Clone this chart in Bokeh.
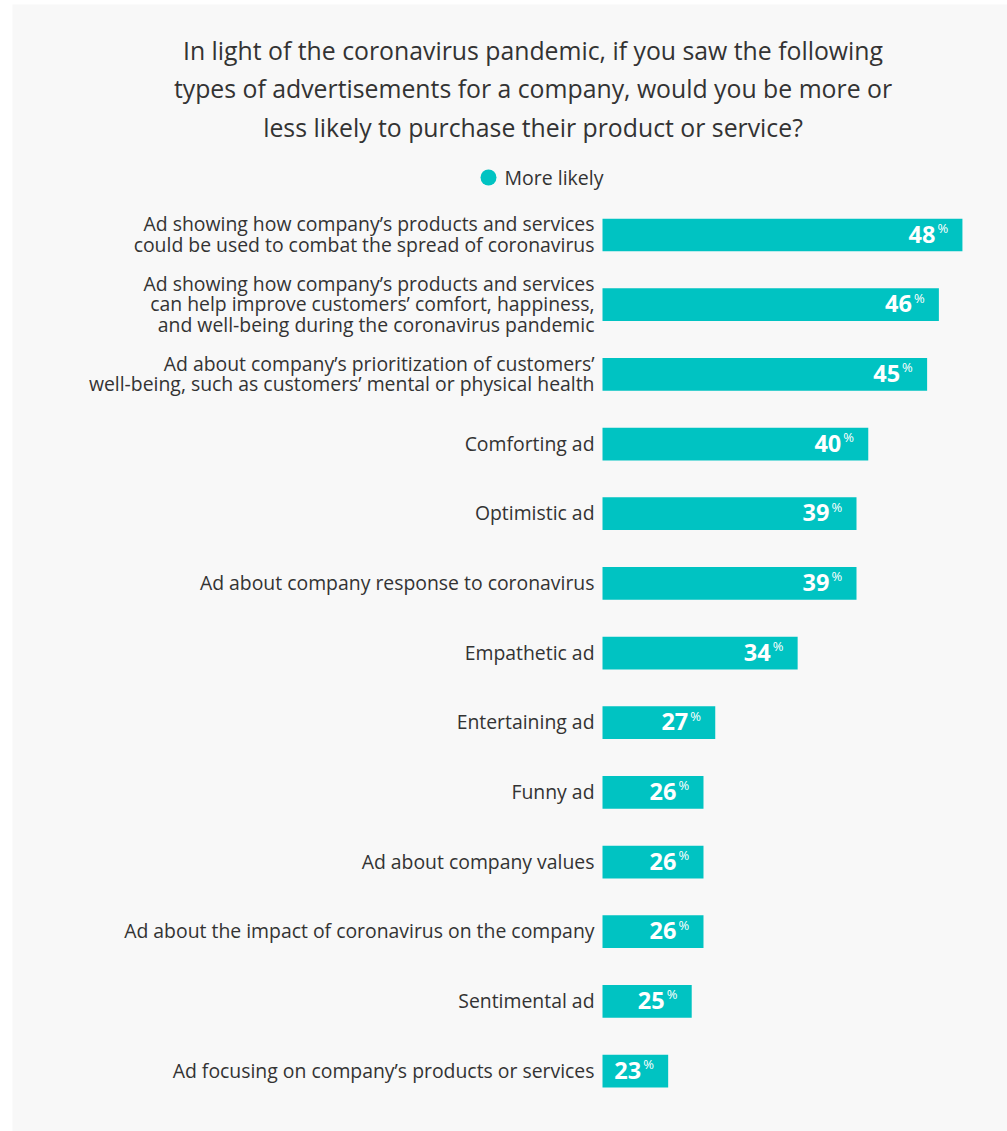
from bokeh.plotting import figure
from bokeh.models import Range1d, ColumnDataSource
from bokeh.core.properties import value
from bokeh.embed import file_html
from bokeh.resources import INLINE

# ---- data ----
categories = [
    "Ad showing how company\u2019s products and services\ncould be used to combat the spread of coronavirus",
    "Ad showing how company\u2019s products and services\ncan help improve customers\u2019 comfort, happiness,\nand well-being during the coronavirus pandemic",
    "Ad about company\u2019s prioritization of customers\u2019\nwell-being, such as customers\u2019 mental or physical health",
    "Comforting ad",
    "Optimistic ad",
    "Ad about company response to coronavirus",
    "Empathetic ad",
    "Entertaining ad",
    "Funny ad",
    "Ad about company values",
    "Ad about the impact of coronavirus on the company",
    "Sentimental ad",
    "Ad focusing on company\u2019s products or services",
]
more_likely = [48, 46, 45, 40, 39, 39, 34, 27, 26, 26, 26, 25, 23]
value_labels = ["48", "46", "45", "40", "39", "39", "34", "27", "26", "26", "26", "25", "23"]
series_name = "More likely"
title_text = ("In light of the coronavirus pandemic, if you saw the following\n"
              "types of advertisements for a company, would you be more or\n"
              "less likely to purchase their product or service?")

# ---- layout constants ----
W, H = 1007, 1131
LEFT, TOP = 12, 4
FW, FH = W - LEFT, H - TOP
AXIS_MIN = 17.42          # value at bar base
PX_PER_UNIT = 11.77       # horizontal pixels per percentage point
BASE_PX = 602             # page x of bar base
ROW0_PX = 234.5           # page y of first bar centre
ROW_PX = 69.67            # row spacing in px

x0 = AXIS_MIN - (BASE_PX - LEFT) / PX_PER_UNIT
x1 = x0 + FW / PX_PER_UNIT
y_top = (TOP - ROW0_PX) / ROW_PX
y_bot = (H - ROW0_PX) / ROW_PX

def px_x(px):
    return x0 + (px - LEFT) / PX_PER_UNIT

def px_y(py):
    return (py - ROW0_PX) / ROW_PX

BAR = "#00c3c2"
TXT = "#333333"
FONT = "Open Sans"

p = figure(width=W, height=H, x_range=Range1d(x0, x1), y_range=Range1d(y_bot, y_top),
           output_backend="svg", toolbar_location=None,
           x_axis_type=None, y_axis_type=None,
           min_border_left=LEFT, min_border_top=TOP, min_border_right=0, min_border_bottom=0)
p.background_fill_color = "#f8f8f8"
p.border_fill_color = "#ffffff"
p.outline_line_color = None
p.grid.visible = False

idx = list(range(len(categories)))
src = ColumnDataSource(dict(y=idx, cat=categories, v=more_likely, lab=value_labels,
                            base=[AXIS_MIN] * len(idx), pct=["%"] * len(idx)))

p.hbar(y="y", left="base", right="v", height=0.47, source=src, fill_color=BAR, line_color=None)

# category labels
p.text(x="base", y="y", text="cat", source=src, x_offset=-8, y_offset=-1,
       text_align="right", text_baseline="middle", text_font=value(FONT),
       text_font_size="19.4px", text_color=TXT, text_line_height=0.76)

# value labels
p.text(x="v", y="y", text="lab", source=src, x_offset=-27, y_offset=-1,
       text_align="right", text_baseline="alphabetic", text_font=value(FONT),
       text_font_style="bold", text_font_size="23.5px", text_color="white")
p.text(x="v", y="y", text="pct", source=src, x_offset=-25, y_offset=-7,
       text_align="left", text_baseline="alphabetic", text_font=value(FONT),
       text_font_size="13px", text_color="white")

# title
p.text(x=[px_x(532.5)], y=[px_y(88)], text=[title_text], text_align="center",
       text_baseline="middle", text_font=value(FONT), text_font_size="24.8px",
       text_color=TXT, text_line_height=1.13)

# legend
p.scatter(x=[px_x(488)], y=[px_y(177)], size=16, marker="circle", fill_color=BAR, line_color=None)
p.text(x=[px_x(504)], y=[px_y(177)], text=[series_name], text_align="left",
       text_baseline="middle", text_font=value(FONT), text_font_size="19.5px", text_color=TXT)

open("out.html", "w").write(file_html(p, INLINE))
